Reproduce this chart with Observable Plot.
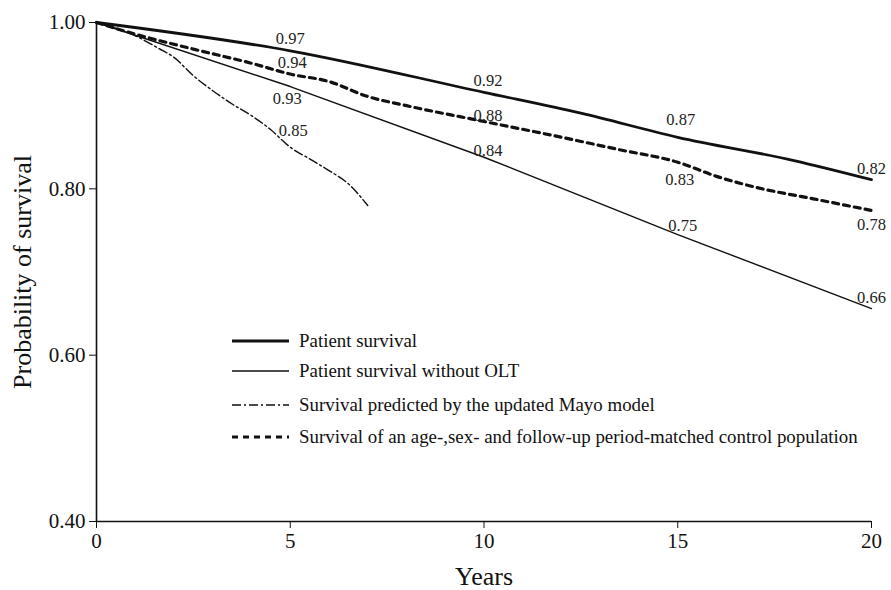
<!DOCTYPE html>
<html>
<head>
<meta charset="utf-8">
<script src="https://cdn.jsdelivr.net/npm/d3@7"></script>
<script src="https://cdn.jsdelivr.net/npm/@observablehq/plot@0.6"></script>
<style>
  html, body { margin: 0; padding: 0; background: #fff; }
  #wrap { position: relative; width: 891px; height: 590px; font-family: "Liberation Serif", "DejaVu Serif", serif; }
  #chart svg, #chart svg text { font-family: "Liberation Serif", "DejaVu Serif", serif !important; }
  #legend { position: absolute; left: 0; top: 0; }
  .row { position: absolute; left: 232px; height: 20px; display: flex; align-items: center; white-space: nowrap; font-size: 18.9px; color: #111; }
  .row svg { margin-right: 9px; }
</style>
</head>
<body>
<div id="wrap"><div id="chart"></div><div id="legend"></div></div>
<script>
// ---- data ----
const seriesNames = [
  "Patient survival",
  "Patient survival without OLT",
  "Survival predicted by the updated Mayo model",
  "Survival of an age-,sex- and follow-up period-matched control population"
];
const patientYears = [0, 5, 10, 12.5, 15, 18, 20];
const patientVals  = [1.00, 0.966, 0.916, 0.891, 0.862, 0.834, 0.811];
const noOltYears = [0, 5, 10, 15, 20];
const noOltVals  = [1.00, 0.923, 0.838, 0.745, 0.656];
const mayoYears = [0, 1, 1.6, 2, 2.5, 3, 3.5, 4, 4.5, 5, 5.5, 6, 6.5, 7];
const mayoVals  = [1.00, 0.984, 0.969, 0.958, 0.936, 0.918, 0.902, 0.888, 0.871, 0.850, 0.836, 0.822, 0.806, 0.780];
const controlYears = [0, 1, 2.5, 4, 5, 6, 7, 8, 10, 12, 13.5, 15, 16, 17, 18.5, 20];
const controlVals  = [1.00, 0.986, 0.968, 0.951, 0.938, 0.929, 0.911, 0.900, 0.881, 0.862, 0.847, 0.832, 0.815, 0.802, 0.788, 0.774];

// point labels: series (0=patient, 1=without OLT, 2=control, 3=Mayo), year, text
const labelSeries = [0, 2, 1, 3, 0, 2, 1, 0, 2, 1, 0, 2, 1];
const labelYears  = [5, 5, 5, 5, 10, 10, 10, 15, 15, 15, 20, 20, 20];
const labelTexts  = ["0.97", "0.94", "0.93", "0.85", "0.92", "0.88", "0.84", "0.87", "0.83", "0.75", "0.82", "0.78", "0.66"];
const xTicks = [0, 5, 10, 15, 20];
const yTicks = [0.40, 0.60, 0.80, 1.00];

// ---- build tables ----
const toRows = (ys, vs, name) => ys.map((y, i) => ({year: y, value: vs[i], series: name}));
const patient = toRows(patientYears, patientVals, seriesNames[0]);
const noOlt = toRows(noOltYears, noOltVals, seriesNames[1]);
const mayo = toRows(mayoYears, mayoVals, seriesNames[2]);
const control = toRows(controlYears, controlVals, seriesNames[3]);
const seriesOrder = [patient, noOlt, control, mayo];

// label offsets (styling only, pixels)
const labelDy = [-12, -11, 12, -17, -12, -6, -7, -18, 17, -9, -11, 14, -11];
const labelDx = [0, 2, -3, 3, 4, 4, 4, 3, 2, 5, 0, 0, 0];
const labels = labelTexts.map((t, i) => {
  const s = seriesOrder[labelSeries[i]];
  const pt = s.find(d => d.year === labelYears[i]);
  return {year: labelYears[i], value: pt.value, text: t, dy: labelDy[i], dx: labelDx[i]};
});

const font = "Liberation Serif";
const plot = Plot.plot({
  width: 891,
  height: 590,
  marginLeft: 96,
  marginRight: 20,
  marginTop: 22,
  marginBottom: 69,
  style: {fontFamily: font, background: "#fff", color: "#111", overflow: "visible"},
  x: {domain: [0, 20]},
  y: {domain: [0.4, 1.0]},
  marks: [
    Plot.axisX({ticks: xTicks, tickFormat: d => String(d), tickSize: 7, tickPadding: 5, fontSize: 21, label: null}),
    Plot.axisY({ticks: yTicks, tickFormat: d3.format(".2f"), tickSize: 7, tickPadding: 4, fontSize: 21, label: null}),
    Plot.ruleX([0], {stroke: "#111", strokeWidth: 1.6}),
    Plot.ruleY([0.4], {stroke: "#111", strokeWidth: 1.6}),
    Plot.line(noOlt, {x: "year", y: "value", stroke: "#111", strokeWidth: 1.4}),
    Plot.line(patient, {x: "year", y: "value", stroke: "#111", strokeWidth: 2.8, curve: "monotone-x"}),
    Plot.line(control, {x: "year", y: "value", stroke: "#111", strokeWidth: 3.2, strokeDasharray: "6,5", curve: "monotone-x"}),
    Plot.line(mayo, {x: "year", y: "value", stroke: "#111", strokeWidth: 1.4, strokeDasharray: "9,3,2,3", curve: "monotone-x"}),
    ...labels.map(l => Plot.text([l], {x: "year", y: "value", text: "text", dy: l.dy, dx: l.dx, fontSize: 16.5, fill: "#222"})),
    Plot.text(["Years"], {frameAnchor: "bottom", dy: 63, fontSize: 26, fill: "#111"}),
    Plot.text(["Probability of survival"], {frameAnchor: "left", dx: -74, rotate: -90, textAnchor: "middle", fontSize: 26, fill: "#111"})
  ]
});
document.getElementById("chart").appendChild(plot);

// ---- legend (inside plot area, as in the reference) ----
const legendDash = [null, null, "9,3,2,3", "6,5"];
const legendWidth = [2.8, 1.4, 1.4, 3.2];
const legendTop = [331, 361, 395, 427];
const legend = document.getElementById("legend");
seriesNames.forEach((name, i) => {
  const row = document.createElement("div");
  row.className = "row";
  row.style.top = legendTop[i] + "px";
  row.innerHTML = `<svg width="58" height="10"><line x1="0" x2="57" y1="5" y2="5" stroke="#111" stroke-width="${legendWidth[i]}" ${legendDash[i] ? `stroke-dasharray="${legendDash[i]}"` : ""}/></svg><span>${name}</span>`;
  legend.appendChild(row);
});
</script>
</body>
</html>
